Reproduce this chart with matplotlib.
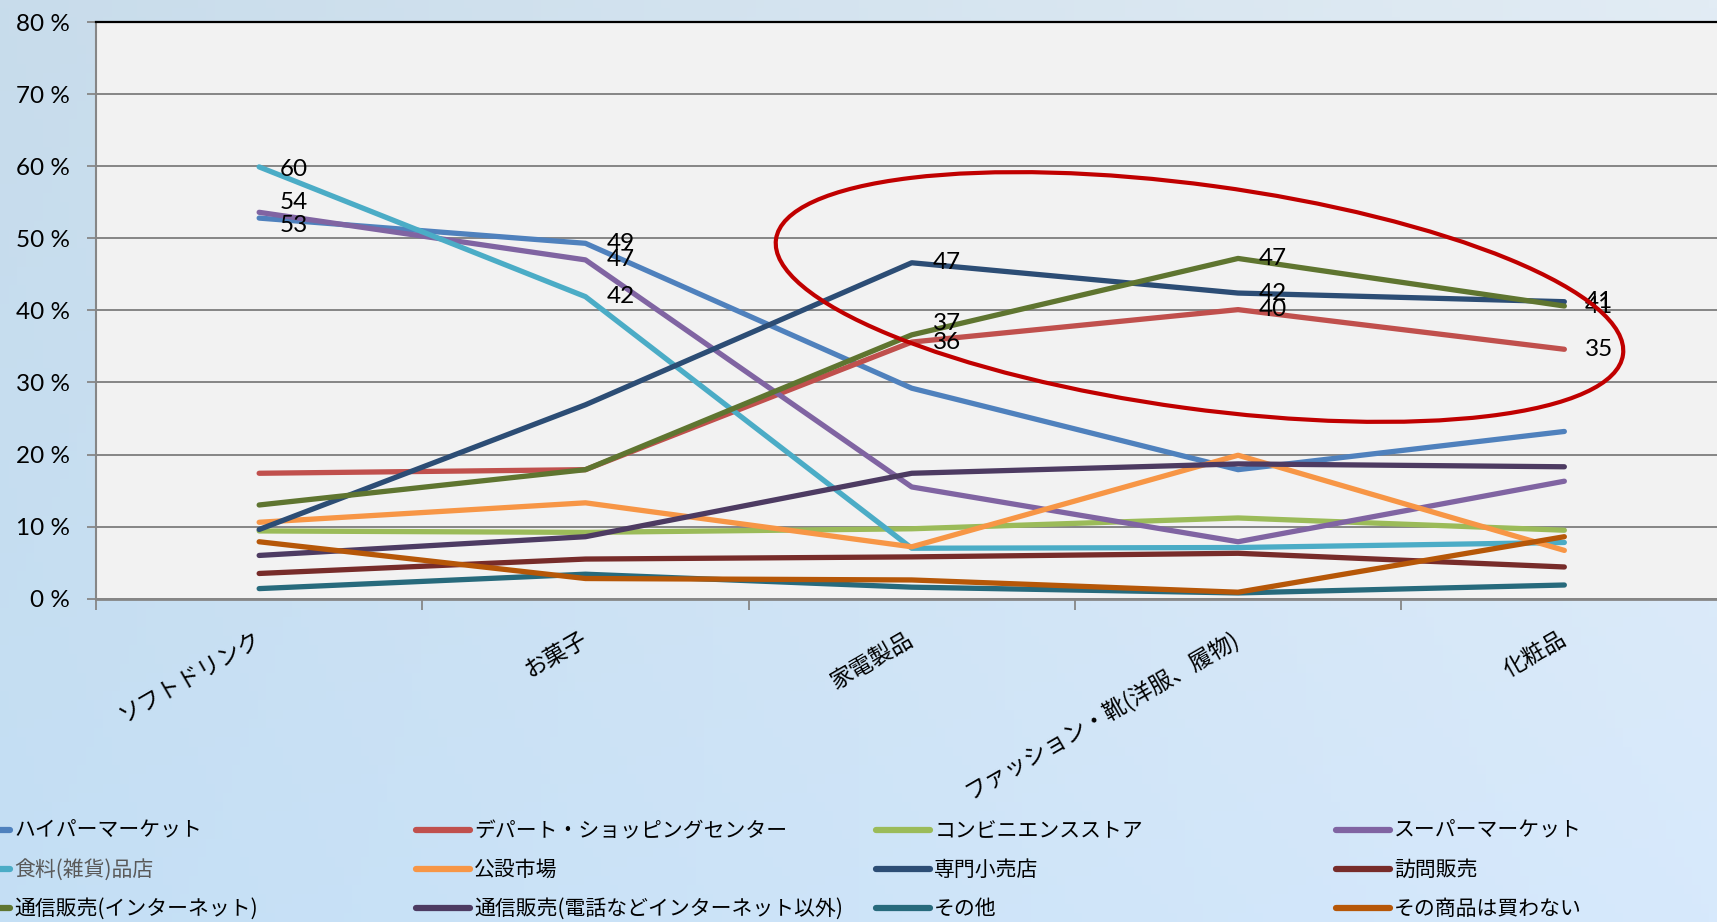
import numpy as np
import matplotlib
matplotlib.use('Agg')
import matplotlib.pyplot as plt
from matplotlib.patches import Ellipse
from matplotlib.font_manager import FontProperties

plt.rcParams['font.family'] = ['Lato', 'Noto Sans CJK JP', 'DejaVu Sans']

# ---------------- data ----------------
categories = ['ソフトドリンク', 'お菓子', '家電製品', 'ファッション・靴(洋服、履物)', '化粧品']
series_names = ['ハイパーマーケット', 'デパート・ショッピングセンター', 'コンビニエンスストア', 'スーパーマーケット',
                '食料(雑貨)品店', '公設市場', '専門小売店', '訪問販売',
                '通信販売(インターネット)', '通信販売(電話などインターネット以外)', 'その他', 'その商品は買わない']
hyper = [52.8, 49.3, 29.2, 17.9, 23.2]
depart = [17.4, 17.9, 35.6, 40.1, 34.6]
conveni = [9.4, 9.2, 9.7, 11.2, 9.5]
supermarket = [53.6, 47.0, 15.5, 7.9, 16.3]
food_store = [59.9, 41.9, 7.0, 7.1, 7.8]
public_market = [10.6, 13.3, 7.2, 19.9, 6.7]
specialty = [9.6, 26.9, 46.6, 42.4, 41.2]
door_to_door = [3.5, 5.5, 5.8, 6.3, 4.4]
mail_net = [13.0, 17.9, 36.6, 47.2, 40.6]
mail_phone = [6.0, 8.6, 17.4, 18.7, 18.3]
other = [1.4, 3.4, 1.6, 0.8, 1.9]
dont_buy = [7.9, 2.8, 2.6, 0.9, 8.6]
series_values = [hyper, depart, conveni, supermarket, food_store, public_market,
                 specialty, door_to_door, mail_net, mail_phone, other, dont_buy]
yticks = [0, 10, 20, 30, 40, 50, 60, 70, 80]

# ---------------- style ----------------
colors = ['#4F81BD', '#C0504D', '#9BBB59', '#8064A2', '#4BACC6', '#F79646',
          '#2C4D75', '#772C2A', '#5F7530', '#4D3B62', '#276A7C', '#B65708']
# vertical nudges (points) for a few crowded data labels: (series, category) -> dy
label_nudge = {(3, 0): 7, (0, 0): -5, (8, 2): 8, (4, 0): -2}

W, H = 1717, 922
fig = plt.figure(figsize=(W / 100, H / 100), dpi=100)

# background gradient
bg = fig.add_axes([0, 0, 1, 1], zorder=-10)
tl = np.array([200, 220, 235]) / 255
tr = np.array([226, 236, 244]) / 255
bl = np.array([196, 223, 245]) / 255
br = np.array([215, 233, 252]) / 255
u = np.linspace(0, 1, 200)[None, :, None]
v = np.linspace(0, 1, 100)[:, None, None]
grad = (1 - v) * ((1 - u) * tl + u * tr) + v * ((1 - u) * bl + u * br)
bg.imshow(grad, extent=[0, 1, 0, 1], aspect='auto')
bg.axis('off')

left, right = 96, 96 + 5 * 326.3
y0, ytop = 598.7, 22
ax = fig.add_axes([left / W, (H - y0) / H, (right - left) / W, (y0 - ytop) / H])
ax.set_facecolor('#f2f2f2')

x = np.arange(len(categories))
lines = []
for vals, c in zip(series_values, colors):
    ln, = ax.plot(x, vals, color=c, lw=3.8, solid_capstyle='round', solid_joinstyle='round', zorder=3)
    lines.append(ln)

ax.set_xlim(-0.5, len(categories) - 0.5)
ax.set_ylim(0, 80)
ax.set_yticks(yticks)
ax.set_yticklabels([f'{t} %' for t in yticks], fontsize=17.5, family='Lato')
ax.yaxis.grid(True, color='#868686', lw=1.4)
ax.set_axisbelow(True)
ax.tick_params(axis='y', direction='out', length=6.5, width=1.3, color='#868686', pad=12)

ax.set_xticks(np.arange(-0.5, len(categories), 1.0))
ax.set_xticklabels([])
ax.tick_params(axis='x', which='major', direction='out', length=8, width=1.3, color='#868686')
ax.set_xticks(x, minor=True)
ax.set_xticklabels(categories, minor=True, fontsize=16.5, family=['Noto Sans CJK JP', 'DejaVu Sans'])
ax.tick_params(axis='x', which='minor', length=0, pad=28)
for t in ax.get_xticklabels(minor=True):
    t.set_rotation(30)
    t.set_ha('right')
    t.set_va('center')
    t.set_rotation_mode('anchor')

for s in ['left', 'bottom']:
    ax.spines[s].set_color('#868686')
ax.spines['left'].set_linewidth(1.5)
ax.spines['bottom'].set_linewidth(2)
ax.spines['top'].set_color('black')
ax.spines['top'].set_linewidth(1.6)
ax.spines['right'].set_visible(False)

# data labels: the three highest series per category
arr = np.array(series_values)
for ci in range(len(categories)):
    top3 = np.argsort(arr[:, ci])[::-1][:3]
    for si in top3:
        val = arr[si, ci]
        dy = label_nudge.get((si, ci), 0)
        ax.annotate(f'{val:.0f}', (ci, val), xytext=(15, dy), textcoords='offset points',
                    ha='left', va='center', fontsize=17.5, family='Lato', color='black', zorder=5)

# highlight ellipse (annotation)
ell = Ellipse((1199.5 / 100, (H - 297) / 100), width=2 * 4.274, height=2 * 1.118, angle=-7.75,
              transform=fig.dpi_scale_trans, fill=False, edgecolor='#C00000', lw=3, zorder=10)
fig.add_artist(ell)

# legend: four columns
prop = FontProperties(family=['Noto Sans CJK JP', 'DejaVu Sans'], size=15)
for c in range(4):
    idx = [c, c + 4, c + 8]
    leg = fig.legend([lines[i] for i in idx], [series_names[i] for i in idx],
                     loc='center left', bbox_to_anchor=((-44 + 460 * c) / 100, 0.52),
                     bbox_transform=fig.dpi_scale_trans, frameon=False, borderpad=0,
                     borderaxespad=0, handlelength=2.6, handletextpad=0.2, labelspacing=0.82,
                     prop=prop)
    for lh in leg.get_lines():
        lh.set_linewidth(4.5)
    if c == 0:
        leg.get_texts()[1].set_color('#595959')

fig.savefig('out.png', dpi=100)
